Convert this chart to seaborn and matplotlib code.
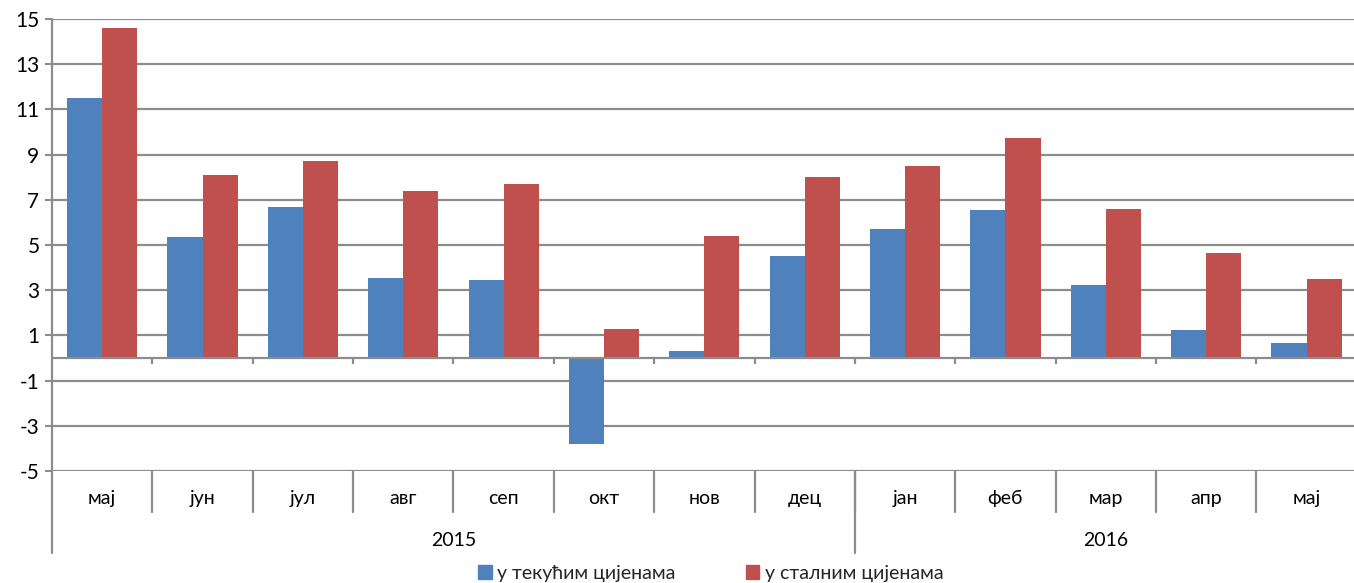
import matplotlib
matplotlib.use("Agg")
import matplotlib.pyplot as plt
import matplotlib.transforms as mtransforms
import seaborn as sns
import pandas as pd
import numpy as np

months = ["мај", "јун", "јул", "авг", "сеп", "окт", "нов", "дец", "јан", "феб", "мар", "апр", "мај"]
years = ["2015"] * 8 + ["2016"] * 5
current_prices = [11.5, 5.35, 6.7, 3.55, 3.45, -3.8, 0.3, 4.5, 5.7, 6.55, 3.25, 1.25, 0.65]
constant_prices = [14.6, 8.1, 8.7, 7.4, 7.7, 1.3, 5.4, 8.0, 8.5, 9.75, 6.6, 4.65, 3.5]
series_names = ["у текућим цијенама", "у сталним цијенама"]
colors = ["#4F81BD", "#C0504D"]
yticks = list(range(-5, 16, 2))

keys = [f"{y}-{m}-{i}" for i, (y, m) in enumerate(zip(years, months))]
df = pd.DataFrame({
    "key": keys * 2,
    "value": current_prices + constant_prices,
    "series": [series_names[0]] * len(keys) + [series_names[1]] * len(keys),
})

sns.set_theme(style="white")
plt.rcParams["font.family"] = ["Lato", "DejaVu Sans"]

fig = plt.figure(figsize=(13.54, 5.83), dpi=100)
ax = fig.add_axes([52 / 1354, 1 - 471 / 583, 1 - 52 / 1354 + 0.002, (471 - 19) / 583])

sns.barplot(data=df, x="key", y="value", hue="series", order=keys, hue_order=series_names,
            palette=colors, width=0.7, saturation=1, ax=ax, legend=False, linewidth=0)

grid_c = "#8C8C8C"
n = len(keys)
ax.set_xlim(-0.5, n - 0.5)
ax.set_ylim(-5, 15)
ax.set_yticks(yticks)
ax.set_yticklabels([str(t) for t in yticks], fontsize=15, color="#000000")
ax.tick_params(axis="y", length=5, width=1.5, color=grid_c, pad=4, left=True)
ax.set_xticks([])
ax.set_xlabel("")
ax.set_ylabel("")
for t in yticks:
    ax.axhline(t, color=grid_c, lw=1.6, zorder=0)
for s in ["top", "right", "bottom", "left"]:
    ax.spines[s].set_visible(False)

# axis line at zero with tick marks between categories
ax.axhline(0, color=grid_c, lw=1.6, zorder=3)
bounds = np.arange(n + 1) - 0.5
ax.vlines(bounds[1:-1], -0.25, 0, color=grid_c, lw=1.6, zorder=3)

trans = mtransforms.blended_transform_factory(ax.transData, ax.transAxes)
# left spine extended
ax.plot([-0.5, -0.5], [1.0, -0.181], transform=trans, color=grid_c, lw=1.6, clip_on=False)
# month separators and labels
for b in bounds[1:-1]:
    ax.plot([b, b], [0, -0.091], transform=trans, color=grid_c, lw=1.6, clip_on=False)
for i, m in enumerate(months):
    ax.text(i, -0.06, m, transform=trans, ha="center", va="center", fontsize=14, color="#000000")
# year groups
year_list = []
for y in years:
    if y not in year_list:
        year_list.append(y)
for y in year_list:
    idx = [i for i, yy in enumerate(years) if yy == y]
    ax.text((idx[0] + idx[-1]) / 2, -0.153, y, transform=trans, ha="center", va="center",
            fontsize=14, color="#000000")
    if idx[0] > 0:
        b = idx[0] - 0.5
        ax.plot([b, b], [0, -0.181], transform=trans, color=grid_c, lw=1.6, clip_on=False)

handles = [plt.Rectangle((0, 0), 1, 1, color=c) for c in colors]
fig.legend(handles, series_names, loc="center", bbox_to_anchor=(0.5 + 0.025, 1 - 573 / 583),
           ncol=2, frameon=False, fontsize=14, handlelength=0.7, handleheight=0.7,
           handletextpad=0.3, columnspacing=3.6, borderpad=0)

fig.savefig("out.png", dpi=100)
